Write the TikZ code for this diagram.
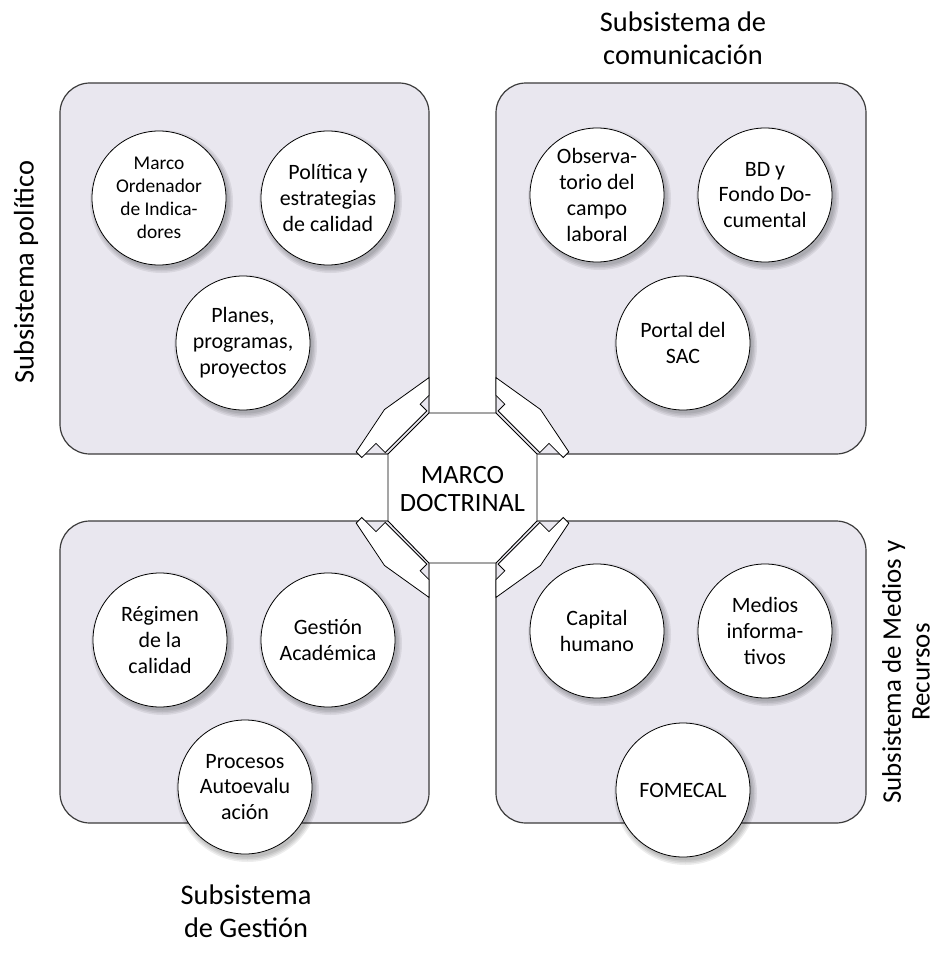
\documentclass[tikz,border=0pt]{standalone}
\usepackage{fontspec}
\setmainfont{Carlito}
\usetikzlibrary{calc}
\definecolor{boxfill}{HTML}{E9E7EF}
\definecolor{boxline}{HTML}{3C3C3C}
\newcommand\plugshape{%
  \draw[plug] (356.2,451.9) -- (361.8,457.5) -- (376.0,443.4) -- (385.2,452.6)
    -- (426.9,410.9) -- (420.2,404.2) -- (429,395.4) -- (429,377.6)
    -- (384.5,409.5) -- cycle;}
\newcommand\bubble[4][]{%
  \foreach \rr in {71.5,70,68.5,67} {\fill[black, opacity=0.07] ($(#3)+(2.5,3.5)$) circle[radius=\rr bp];}
  \node[circ,#1] (#2) at (#3) {#4};}
\begin{document}
\begin{tikzpicture}[x=1bp,y=-1bp,
  box/.style={draw=boxline, fill=boxfill, line width=1.2bp, rounded corners=30bp, inner sep=0pt},
  circ/.style={circle, draw=black, fill=white, line width=0.8bp, minimum size=134bp, inner sep=0pt, align=center, font=\fontsize{22}{26}\selectfont},
  plug/.style={draw=black, fill=white, line width=0.8bp, line join=miter},
  lab/.style={align=center, font=\fontsize{28.5}{33}\selectfont, inner sep=0pt}]
\useasboundingbox (0,0) rectangle (942,969);
\fill[white] (0,0) rectangle (942,969);
% subsystem boxes
\node[box, minimum width=369bp, minimum height=371bp] (pol) at (244.5,268.5) {};
\node[box, minimum width=370bp, minimum height=371bp] (com) at (681,268.5) {};
\node[box, minimum width=369bp, minimum height=302bp] (ges) at (244.5,672) {};
\node[box, minimum width=370bp, minimum height=302bp] (med) at (681,672) {};
% plugs
\plugshape
\begin{scope}[shift={(925,0)}, xscale=-1]\plugshape\end{scope}
\begin{scope}[shift={(0,975)}, yscale=-1]\plugshape\end{scope}
\begin{scope}[shift={(925,975)}, xscale=-1, yscale=-1]\plugshape\end{scope}
% octagon
\draw[fill=white, line width=0.9bp] (429,413) -- (496,413) -- (537,454) -- (537,521)
  -- (496,563) -- (429,563) -- (388,521) -- (388,454) -- cycle;
\node[font=\fontsize{26.5}{29}\selectfont, align=center] (core) at (462.5,489) {MARCO\\DOCTRINAL};
% circles
\bubble[font=\fontsize{19.5}{23}\selectfont]{p1}{159,198}{Marco\\Ordenador\\de Indica-\\dores}
\bubble{p2}{328,198}{Política y\\estrategias\\de calidad}
\bubble{p3}{243,343}{Planes,\\programas,\\proyectos}
\bubble{c1}{597,195}{Observa-\\torio del\\campo\\laboral}
\bubble{c2}{765,195}{BD y\\Fondo Do-\\cumental}
\bubble{c3}{683,343}{Portal del\\SAC}
\bubble{g1}{160,640}{Régimen\\de la\\calidad}
\bubble{g2}{328,640}{Gestión\\Académica}
\bubble{g3}{245,787}{Procesos\\Autoevalu\\ación}
\bubble{r1}{597,631}{Capital\\humano}
\bubble{r2}{765,631}{Medios\\informa-\\tivos}
\bubble{r3}{683,790}{FOMECAL}
% labels
\node[lab, rotate=90] (lpol) at (26,272) {Subsistema político};
\node[lab] (lcom) at (683,38) {Subsistema de\\comunicación};
\node[lab, rotate=90, font=\fontsize{27}{29}\selectfont] (lmed) at (906,672) {Subsistema de Medios y\\Recursos};
\node[lab] (lges) at (246,911) {Subsistema\\de Gestión};
\end{tikzpicture}
\end{document}
